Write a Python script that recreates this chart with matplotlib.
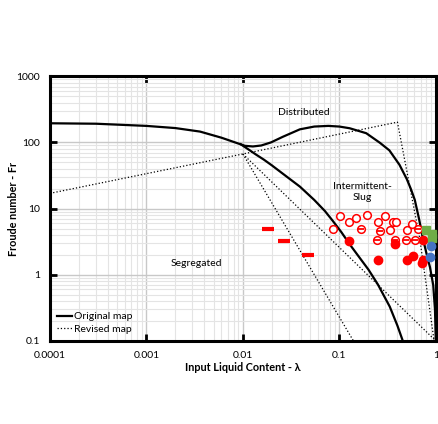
import matplotlib.pyplot as plt
from matplotlib.ticker import FixedLocator, NullFormatter, LogLocator

plt.rcParams['font.family'] = ['Lato', 'DejaVu Sans']

# original map - upper (distributed) boundary
orig_upper_x = [0.0001, 0.0003, 0.001, 0.002, 0.0036, 0.006, 0.0085, 0.0105, 0.0127, 0.0155,
                0.0195, 0.026, 0.039, 0.055, 0.077, 0.1, 0.128, 0.19, 0.263, 0.33, 0.42,
                0.5, 0.55, 0.605, 0.67, 0.733, 0.8, 0.87, 0.94, 0.98, 1.0]
orig_upper_y = [195, 192, 178, 165, 146, 118, 99, 89, 87, 90,
                100, 122, 158, 174, 178, 174, 164, 138, 99, 76, 46,
                28, 20, 13.6, 7.0, 3.6, 2.1, 1.3, 0.7, 0.3, 0.1]

# original map - lower (segregated) boundary
orig_lower_x = [0.0095, 0.0115, 0.0136, 0.0165, 0.02, 0.028, 0.039, 0.055, 0.0708, 0.085,
                0.105, 0.13, 0.165, 0.2, 0.25, 0.333, 0.4, 0.455]
orig_lower_y = [94, 78, 66, 55, 45, 31, 21.5, 13.5, 9.2, 6.6,
                4.4, 2.8, 1.75, 1.2, 0.72, 0.33, 0.17, 0.1]

# revised map (dotted)
rev_a_x = [0.0001, 0.01, 0.4, 0.68, 0.96]
rev_a_y = [17, 67, 203, 3.6, 0.1]
rev_b_x = [0.01, 0.14]
rev_b_y = [67, 0.1]
rev_c_x = [0.01, 1.0]
rev_c_y = [67, 0.1]

# data points
open_x = [0.101, 0.1265, 0.148, 0.193, 0.249, 0.297, 0.0863, 0.361, 0.385, 0.333, 0.497, 0.56]
open_y = [7.76, 6.36, 7.31, 8.03, 6.36, 7.76, 4.88, 6.36, 6.22, 4.76, 4.76, 5.81]
minus_x = [0.167, 0.263, 0.243, 0.376, 0.489, 0.605, 0.65]
minus_y = [4.93, 4.65, 3.36, 3.36, 3.36, 3.36, 4.93]
filled_x = [0.125, 0.249, 0.376, 0.738, 0.497, 0.587, 0.733, 0.716]
filled_y = [3.28, 1.65, 2.92, 3.36, 1.65, 1.92, 1.65, 1.53]
green_x = [0.798, 0.91, 0.91]
green_y = [4.76, 4.14, 3.6]
blue_x = [0.887, 0.861]
blue_y = [2.7, 1.88]
dash_x = [0.0182, 0.0266, 0.0472]
dash_y = [4.93, 3.24, 1.97]

x_ticks = [0.0001, 0.001, 0.01, 0.1, 1]
x_labels = ['0.0001', '0.001', '0.01', '0.1', '1']
y_ticks = [0.1, 1, 10, 100, 1000]
y_labels = ['0.1', '1', '10', '100', '1000']

fig = plt.figure(figsize=(4.38, 4.24), dpi=100)
ax = fig.add_axes([0.114, 0.196, 0.881, 0.624])
ax.set_xscale('log')
ax.set_yscale('log')
ax.set_xlim(0.0001, 1)
ax.set_ylim(0.1, 1000)

ax.xaxis.set_minor_locator(LogLocator(base=10, subs=range(2, 10)))
ax.yaxis.set_minor_locator(LogLocator(base=10, subs=range(2, 10)))
ax.xaxis.set_minor_formatter(NullFormatter())
ax.yaxis.set_minor_formatter(NullFormatter())
ax.grid(True, which='major', color='#c8c8c8', lw=1.0, zorder=0)
ax.grid(True, which='minor', color='#e4e4e4', lw=0.8, zorder=0)

ax.plot(orig_upper_x, orig_upper_y, color='black', lw=1.6, label='Original map', zorder=3)
ax.plot(orig_lower_x, orig_lower_y, color='black', lw=1.6, zorder=3)
ax.plot(rev_a_x, rev_a_y, color='black', lw=0.9, ls=':', label='Revised map', zorder=3)
ax.plot(rev_b_x, rev_b_y, color='black', lw=0.9, ls=':', zorder=3)
ax.plot(rev_c_x, rev_c_y, color='black', lw=0.9, ls=':', zorder=3)

ax.plot(open_x, open_y, 'o', ms=5.5, mfc='white', mec='red', mew=1.1, zorder=4)
ax.plot(minus_x, minus_y, 'o', ms=5.5, mfc='white', mec='red', mew=1.1, zorder=4)
ax.plot(minus_x, minus_y, '_', ms=4, mec='red', mew=1.3, zorder=5)
ax.plot(filled_x, filled_y, 'o', ms=6, color='red', zorder=4)
ax.plot(dash_x, dash_y, '_', ms=8, mec='red', mew=3, zorder=4)
ax.plot(green_x, green_y, 's', ms=6, color='#70ad47', zorder=5, clip_on=False)
ax.plot(blue_x, blue_y, 'o', ms=6, color='#4472c4', zorder=6, clip_on=False)

ax.text(0.0428, 281, 'Distributed', fontsize=7.5, ha='center', va='center')
ax.text(0.175, 17.9, 'Intermittent-\nSlug', fontsize=7.5, ha='center', va='center',
        linespacing=1.3)
ax.text(0.00333, 1.46, 'Segregated', fontsize=7.5, ha='center', va='center')

ax.xaxis.set_major_locator(FixedLocator(x_ticks))
ax.set_xticklabels(x_labels)
ax.yaxis.set_major_locator(FixedLocator(y_ticks))
ax.set_yticklabels(y_labels)
ax.tick_params(which='major', direction='in', length=5, width=2, labelsize=7.5,
               top=True, right=True, pad=7)
ax.tick_params(which='minor', length=0)
for s in ax.spines.values():
    s.set_linewidth(2.2)

ax.set_xlabel('Input Liquid Content - λ', fontsize=7.8, fontweight='bold', labelpad=2)
ax.set_ylabel('Froude number - Fr', fontsize=7.8, fontweight='bold')
ax.yaxis.set_label_coords(-0.08, 0.5)

ax.legend(loc='lower left', frameon=False, fontsize=7.5, handlelength=1.5,
          handletextpad=0.2, labelspacing=0.35, borderaxespad=0.25)

fig.savefig('out.png', dpi=100)
